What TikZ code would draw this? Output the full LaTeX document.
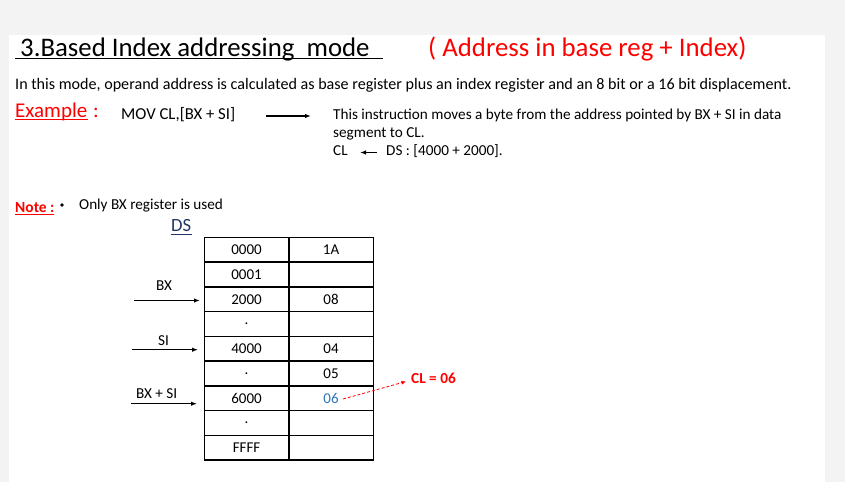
\documentclass[tikz,border=0pt]{standalone}
\usepackage{fontspec}
\setmainfont{Carlito}
\usetikzlibrary{arrows.meta}
\definecolor{pagegrey}{HTML}{F3F3F3}
\definecolor{myred}{HTML}{FF0000}
\definecolor{dsblue}{HTML}{203864}
\definecolor{valblue}{HTML}{2E75B6}
\tikzset{
  txt/.style={inner sep=0pt, anchor=base west},
  body/.style={txt, font=\fontsize{16.1}{19}\selectfont},
  small/.style={txt, font=\fontsize{15.2}{18}\selectfont},
  cell/.style={draw=black, line width=1.6pt, minimum width=84.5pt, minimum height=24.73pt, inner sep=0pt, anchor=north west, font=\fontsize{15}{18}\selectfont},
  ptr/.style={-{Latex[length=6pt,width=4.5pt]}, line width=1.2pt},
  uline/.style={line width=0.9pt},
}
\begin{document}
\begin{tikzpicture}[x=1pt,y=-1pt]
\useasboundingbox (0,0) rectangle (845,482);
\fill[pagegrey] (0,0) rectangle (845,482);
\fill[white] (9,35) rectangle (825,482);
% Title
\node[txt, font=\fontsize{26.8}{31}\selectfont] (title) at (20,56) {3.Based Index addressing\ \ mode};
\draw[uline] (15,58.5) -- (383,58.5);
\node[txt, text=myred, font=\fontsize{26.8}{31}\selectfont] (subtitle) at (428,56) {( Address in base reg + Index)};
% Body
\node[body] (intro) at (15,89) {In this mode, operand address is calculated as base register plus an index register and an 8 bit or a 16 bit displacement.};
\node[txt, text=myred, font=\fontsize{21}{25}\selectfont] (example) at (15,117.5) {Example};
\draw[uline, myred] (15,119.5) -- (88,119.5);
\node[txt, text=myred, font=\fontsize{21}{25}\selectfont] (colon) at (93,117.5) {:};
\node[txt, font=\fontsize{16.7}{20}\selectfont] (mov) at (121,119) {MOV CL,[BX + SI]};
\coordinate (a1s) at (266,116);
\coordinate (a1e) at (311,116);
\draw[ptr] (a1s) -- (a1e);
\node[small] (l1) at (333,119) {This instruction moves a byte from the address pointed by BX + SI in data};
\node[small] (l2) at (333,137) {segment to CL.};
\node[small] (cl) at (333,155) {CL};
\coordinate (a2s) at (377,152.5);
\coordinate (a2e) at (360,152.5);
\draw[ptr] (a2s) -- (a2e);
\node[small] (ds1) at (386,155) {DS : [4000 + 2000].};
% Note
\node[txt, text=myred, font=\fontsize{15.5}{18}\selectfont\bfseries] (note) at (15,212) {Note :};
\draw[line width=1pt, myred] (15,214.5) -- (54,214.5);
\fill (62,205) circle (1.8pt);
\node[small] (only) at (79,209) {Only BX register is used};
\node[txt, text=dsblue, font=\fontsize{18.67}{22}\selectfont] (ds) at (171,231.5) {DS};
\draw[uline, dsblue] (170.5,234.5) -- (192,234.5);
% Table
\foreach \i/\a/\v in {0/0000/1A,1/0001/,2/2000/08,3/./,4/4000/04,5/./05,6/6000/,7/./,8/FFFF/}{
  \node[cell] (a\i) at (203.5,236.7+24.73*\i) {\a};
  \node[cell] (v\i) at (288,236.7+24.73*\i) {\v};
}
\node[inner sep=0pt, text=valblue, font=\fontsize{15}{18}\selectfont] (val6) at (v6.center) {06};
% Pointer arrows
\node[small] (bx) at (156,290) {BX};
\coordinate (bxs) at (134,300.5);
\coordinate (bxe) at (200,300.5);
\draw[ptr] (bxs) -- (bxe);
\node[small] (si) at (158,345) {SI};
\coordinate (sis) at (132,349.7);
\coordinate (sie) at (198,349.7);
\draw[ptr] (sis) -- (sie);
\node[small] (bxsi) at (136,398.3) {BX + SI};
\coordinate (bsis) at (131,403.7);
\coordinate (bsie) at (197,403.7);
\draw[ptr] (bsis) -- (bsie);
% Result
\node[txt, text=myred, font=\fontsize{15.3}{18}\selectfont\bfseries] (res) at (411,383.3) {CL = 06};
\draw[-{Latex[length=4.5pt,width=4pt]}, myred, dashed, dash pattern=on 3pt off 2pt, line width=0.8pt] (343,399) -- (406,381.5);
\end{tikzpicture}
\end{document}
